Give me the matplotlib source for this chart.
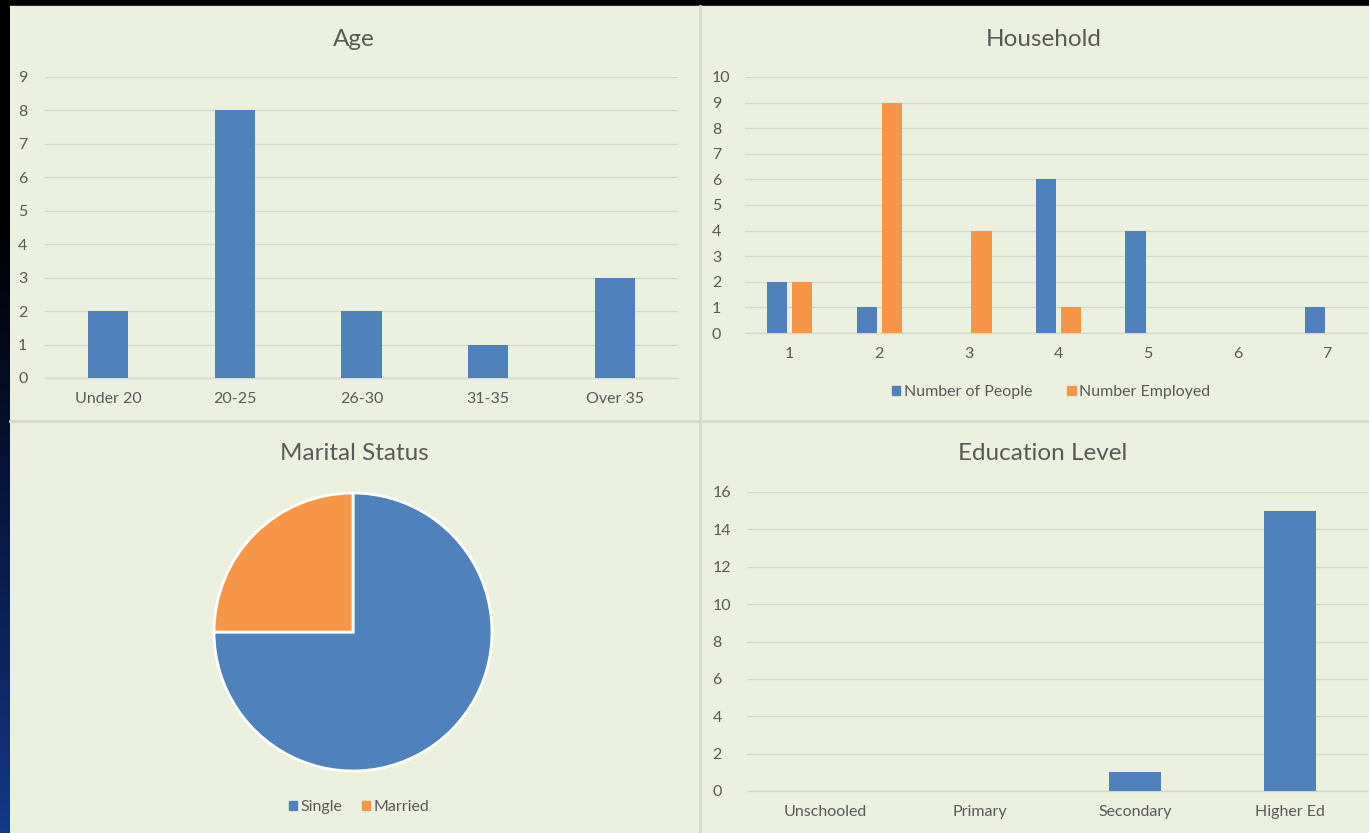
import numpy as np
import matplotlib
matplotlib.use("Agg")
import matplotlib.pyplot as plt
from matplotlib.patches import Patch, Rectangle
from matplotlib.colors import LinearSegmentedColormap

plt.rcParams['font.family'] = ['Lato', 'DejaVu Sans']

# ---------------- data ----------------
age_labels = ["Under 20", "20-25", "26-30", "31-35", "Over 35"]
age_counts = [2, 8, 2, 1, 3]

household_sizes = ["1", "2", "3", "4", "5", "6", "7"]
household_people = [2, 1, 0, 6, 4, 0, 1]
household_employed = [2, 9, 4, 1, 0, 0, 0]

marital_labels = ["Single", "Married"]
marital_counts = [12, 4]

edu_labels = ["Unschooled", "Primary", "Secondary", "Higher Ed"]
edu_counts = [0, 0, 1, 15]

BLUE = "#4F81BD"
ORANGE = "#F79646"
BG = "#EBF1DE"
GRID = "#D6D9D0"
TXT = "#595959"

W, H = 1369, 833
fig = plt.figure(figsize=(W / 100, H / 100), dpi=100)
fig.patch.set_facecolor("black")


def fx(px):
    return px / W


def fy(py):
    return 1 - py / H


def box(x0, y0, x1, y1):
    # pixel box (top-left origin) -> figure rect
    return [fx(x0), fy(y1), fx(x1) - fx(x0), fy(y0) - fy(y1)]


# background: left gradient strip + panel area
bgax = fig.add_axes([0, 0, 1, 1])
bgax.set_xlim(0, W)
bgax.set_ylim(H, 0)
bgax.axis("off")
cmap = LinearSegmentedColormap.from_list("strip", ["#000000", "#000000", "#050F2A", "#0B2258", "#16388A"])
grad = np.linspace(0, 1, 200).reshape(-1, 1)
bgax.imshow(grad, cmap=cmap, extent=[0, 10, H, 0], aspect="auto", zorder=0)
bgax.add_patch(Rectangle((10, 6), W - 10, H - 6, facecolor=BG, edgecolor="none", zorder=1))
bgax.plot([10, W], [5.5, 5.5], color="#E8E8E8", lw=1, zorder=2)
bgax.plot([700, 700], [6, H], color="#D5D9CF", lw=2, zorder=2)
bgax.plot([10, W], [421, 421], color="#D5D9CF", lw=2, zorder=2)


def style_bar_axes(ax, ypad_px, xpad_px):
    ax.set_facecolor("none")
    for s in ["top", "right", "left"]:
        ax.spines[s].set_visible(False)
    ax.spines["bottom"].set_color(GRID)
    ax.spines["bottom"].set_linewidth(1)
    ax.yaxis.grid(True, color=GRID, lw=1)
    ax.set_axisbelow(True)
    ax.tick_params(axis="both", length=0, colors=TXT, labelsize=11.5)
    ax.tick_params(axis="y", pad=ypad_px * 0.72)
    ax.tick_params(axis="x", pad=xpad_px * 0.72)
    for lab in ax.get_yticklabels():
        lab.set_horizontalalignment("left")


# ---------------- Age ----------------
ax1 = fig.add_axes(box(45, 77, 678, 378))
x = np.arange(len(age_labels))
ax1.bar(x, age_counts, width=0.316, color=BLUE, zorder=3)
ax1.set_xlim(-0.5, len(age_labels) - 0.5)
ax1.set_ylim(0, 9)
ax1.set_yticks(range(0, 10))
ax1.set_xticks(x)
ax1.set_xticklabels(age_labels)
style_bar_axes(ax1, 27, 14)
fig.text(fx(354), fy(40), "Age", ha="center", va="center", fontsize=17.5, color=TXT)

# ---------------- Household ----------------
ax2 = fig.add_axes(box(745, 77, 1372, 333))
x = np.arange(len(household_sizes))
bw = 0.224
ax2.bar(x - 0.14, household_people, width=bw, color=BLUE, zorder=3, label="Number of People")
ax2.bar(x + 0.14, household_employed, width=bw, color=ORANGE, zorder=3, label="Number Employed")
ax2.set_xlim(-0.5, len(household_sizes) - 0.5)
ax2.set_ylim(0, 10)
ax2.set_yticks(range(0, 11))
ax2.set_xticks(x)
ax2.set_xticklabels(household_sizes)
style_bar_axes(ax2, 33, 14)
fig.text(fx(1044), fy(40), "Household", ha="center", va="center", fontsize=17.5, color=TXT)
fig.legend(handles=[Patch(color=BLUE, label="Number of People"),
                    Patch(color=ORANGE, label="Number Employed")],
           loc="center", bbox_to_anchor=(fx(1051), fy(392)), ncol=2, frameon=False,
           handlelength=0.55, handleheight=0.55, handletextpad=0.2, columnspacing=2.2,
           fontsize=11.5, labelcolor=TXT)

# ---------------- Marital Status ----------------
r = 139
cx, cy = 353, 632
ax3 = fig.add_axes(box(cx - 1.25 * r, cy - 1.25 * r, cx + 1.25 * r, cy + 1.25 * r))
ax3.pie(marital_counts, colors=[BLUE, ORANGE], startangle=90, counterclock=False,
        wedgeprops=dict(edgecolor="white", linewidth=2))
ax3.set_facecolor("none")
fig.text(fx(354), fy(453), "Marital Status", ha="center", va="center", fontsize=17.5, color=TXT)
fig.legend(handles=[Patch(color=BLUE, label="Single"),
                    Patch(color=ORANGE, label="Married")],
           loc="center", bbox_to_anchor=(fx(359), fy(807)), ncol=2, frameon=False,
           handlelength=0.55, handleheight=0.55, handletextpad=0.2, columnspacing=1.2,
           fontsize=11.5, labelcolor=TXT)

# ---------------- Education Level ----------------
ax4 = fig.add_axes(box(747.5, 492, 1367.5, 791))
x = np.arange(len(edu_labels))
ax4.bar(x, edu_counts, width=0.33, color=BLUE, zorder=3)
ax4.set_xlim(-0.5, len(edu_labels) - 0.5)
ax4.set_ylim(0, 16)
ax4.set_yticks(range(0, 17, 2))
ax4.set_xticks(x)
ax4.set_xticklabels(edu_labels)
style_bar_axes(ax4, 35, 14)
fig.text(fx(1043), fy(453), "Education Level", ha="center", va="center", fontsize=17.5, color=TXT)

fig.savefig("out.png", dpi=100, facecolor=fig.get_facecolor())
